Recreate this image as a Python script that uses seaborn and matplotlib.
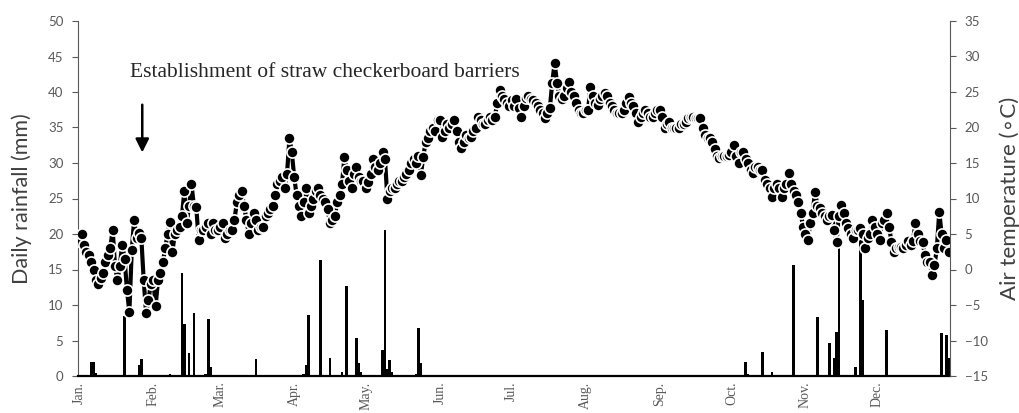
import numpy as np
import pandas as pd
import seaborn as sns
import matplotlib.pyplot as plt

# daily air temperature (deg C), day 0 = 1 Jan
temp_jan = [4, 5, 3.5, 2.5, 2, 1, 0, -1.5, -2, -1.2, -0.5, 1, 2, 3, 5.6, 0.5,
            -1.5, 0.5, 3.5, 1.5, -2.9, -6, 2.7, 7, 4.5, 5.1, 4.5, -1.5, -6.1, -4.3, -2]
temp_feb = [-1.5, -5.1, -1.5, -0.5, 1, 3, 5, 6.7, 2.5, 5, 5.6, 6, 7.5, 11, 6.5,
            9, 12, 9, 8.8, 4.2, 5.5, 5.5, 6, 6.5, 5, 6.5, 5.5, 5.5]
temp_mar = [6, 6.5, 4.5, 5, 5.5, 5.5, 7, 9.5, 10.5, 11, 9, 7, 5, 6.5, 8, 7,
            5.5, 6, 6, 7.5, 8, 8.5, 9, 10.5, 12, 12.5, 13, 11.5, 13.5, 18.5, 16.5]
temp_apr = [13, 10.5, 9, 7.5, 9.5, 11.5, 8, 9, 10, 11, 11.5, 10.5, 10, 9.5, 8.5,
            6.5, 7, 7.5, 9.5, 10.5, 12, 15.8, 14, 12.5, 11.5, 13.5, 14.5, 13, 12.5, 12.5]
temp_may = [11.5, 12.3, 13.5, 15.5, 14.5, 14, 15, 16.5, 15.5, 10, 11, 11.5, 11.5,
            12, 12.5, 12.5, 13, 13.5, 14, 15, 15.5, 15, 16, 13.3, 15.8, 18, 18.5,
            19.5, 20, 19.5, 21]
temp_jun = [21, 18.7, 19.5, 20.5, 20, 20.5, 21, 19.5, 18, 17.1, 18, 19, 18.5, 18.7,
            19.5, 20, 21.5, 21, 20.5, 20.5, 21, 21.5, 21, 21.5, 23.5, 25.3, 24.5, 24,
            23.5, 23]
temp_jul = [23.9, 23, 24, 22.7, 21.5, 23, 24.2, 24.5, 24, 23.9, 23.5, 23, 22.5, 22,
            21.3, 22, 22.7, 26.3, 29.1, 26.3, 24.5, 24, 24.5, 25.5, 26.4, 25, 24.5,
            23.5, 22.5, 22, 22]
temp_aug = [22.5, 22.5, 25.7, 24.5, 23.5, 23.2, 24, 24.5, 24.9, 24.5, 23.5, 23, 22.5,
            22, 22, 22, 22.5, 23.5, 24.3, 23.5, 23, 22, 20.8, 21.5, 22, 22.5, 22, 21.5,
            21.5, 22, 22.5]
temp_sep = [22.5, 21.5, 20, 20.5, 20.8, 20, 20, 20, 20, 20.5, 20.5, 20.8, 21.3, 21.5,
            21.5, 21.3, 21.3, 21.3, 19.9, 19, 18.5, 18.5, 18, 17, 16, 15.7, 16, 16, 16,
            16.1]
temp_oct = [16.5, 17.5, 16, 15, 16.5, 16.5, 15.5, 15, 14, 13.6, 14.5, 14.5, 14, 14,
            12.6, 12, 11.5, 10.2, 11.5, 12, 11.5, 10.2, 11.5, 12, 13.6, 12, 11, 10.5,
            9.5, 8, 6]
temp_nov = [5, 4.2, 6.5, 8, 10.9, 9, 8.7, 8, 7.5, 7, 7.5, 7.7, 5.6, 3.9, 7.5, 9.1,
            8, 6.5, 5.8, 5, 4.4, 5.5, 5.5, 5.8, 5, 3, 4.5, 5, 7, 6]
temp_dec = [5, 4.2, 6.5, 7, 8, 6, 3.9, 2.5, 3, 3.2, 3.2, 3, 3.5, 4, 3.5, 4, 6.5, 5,
            4, 3.9, 2, 1.1, 1, -0.8, 0.6, 3, 8.1, 5, 3, 4.2, 2.5]

# daily rainfall (mm), only days with rain
rain_day = [5, 6, 7, 19, 25, 26, 38, 43, 44, 46, 48, 53, 54, 55, 74, 94, 95, 96, 99,
            101, 105, 110, 112, 116, 117, 118, 127, 128, 129, 130, 131, 136, 141, 142,
            143, 279, 280, 286, 290, 299, 309, 311, 314, 316, 317, 318, 325, 327, 328,
            338, 361, 363, 364]
rain_mm = [2.0, 2.0, 0.4, 8.5, 1.5, 2.4, 0.3, 14.5, 7.3, 3.3, 8.9, 0.3, 8.0, 1.3, 2.4,
           0.3, 1.5, 8.6, 0.2, 16.3, 2.5, 0.5, 12.7, 5.3, 1.8, 0.5, 3.7, 20.6, 1.0, 2.2,
           0.5, 0.2, 0.3, 6.7, 1.8, 2.0, 0.3, 3.4, 0.5, 15.6, 8.3, 0.2, 4.6, 2.5, 6.2,
           18.0, 1.3, 19.2, 10.7, 6.5, 6.0, 5.8, 2.5]

month_labels = ['Jan.', 'Feb.', 'Mar.', 'Apr.', 'May.', 'Jun.', 'Jul.', 'Aug.',
                'Sep.', 'Oct.', 'Nov.', 'Dec.']
month_start = [0, 31, 59, 90, 120, 151, 181, 212, 243, 273, 304, 334]

temp = (temp_jan + temp_feb + temp_mar + temp_apr + temp_may + temp_jun + temp_jul
        + temp_aug + temp_sep + temp_oct + temp_nov + temp_dec)
df = pd.DataFrame({'day': np.arange(len(temp)), 'temp': temp, 'rain': 0.0})
df.loc[rain_day, 'rain'] = rain_mm

sns.set_style('ticks')
plt.rcParams['font.family'] = ['Lato', 'DejaVu Sans']

grey = '#595959'
fig = plt.figure(figsize=(10.19, 4.13), dpi=100)
ax = fig.add_axes([78 / 1019, 1 - 376 / 413, 872 / 1019, 355 / 413])

sns.barplot(data=df, x='day', y='rain', native_scale=True, color='black',
            width=1.1, linewidth=0, errorbar=None, saturation=1, ax=ax)
ax.set_xlim(-0.5, 364.5)
ax.set_ylim(0, 50)
ax.set_yticks(np.arange(0, 51, 5))
ax.set_xticks(month_start)
# month names kept small enough to fit inside the figure
ax.set_xticklabels(month_labels, rotation=90, fontfamily='Liberation Serif',
                   fontsize=10, color=grey)
ax.tick_params(axis='x', length=0, pad=4)
ax.tick_params(axis='y', length=4.5, width=0.8, color=grey, labelcolor=grey,
               labelsize=9.5, pad=6)
ax.set_xlabel('')
ax.set_ylabel('Daily rainfall (mm)', fontsize=15.5, color='#404040')
ax.yaxis.set_label_coords(-0.053, 0.5)
for s in ['top', 'right']:
    ax.spines[s].set_visible(False)
ax.spines['left'].set_color(grey)
ax.spines['left'].set_linewidth(0.8)
ax.spines['bottom'].set_color('black')
ax.spines['bottom'].set_linewidth(1.6)

ax.annotate('', xy=(26.4, 31.1), xytext=(26.4, 38.6),
            arrowprops=dict(arrowstyle='-|>', color='black', lw=1.8, mutation_scale=20))
ax.text(21.3, 42.8, 'Establishment of straw checkerboard barriers',
        fontfamily='Liberation Serif', fontsize=15.5, va='center', ha='left')

ax2 = ax.twinx()
sns.lineplot(data=df, x='day', y='temp', ax=ax2, color='black', linewidth=3,
             marker='o', markersize=8, markerfacecolor='black',
             markeredgecolor='white', markeredgewidth=1.2)
ax2.set_ylim(-15, 35)
ax2.set_yticks(np.arange(-15, 36, 5))
ax2.set_xlim(-0.5, 364.5)
ax2.tick_params(axis='y', length=4.5, width=0.8, color=grey, labelcolor=grey,
                labelsize=9.5, pad=6)
ax2.set_ylabel('Air temperature (\u2218C)', fontsize=16, color='#404040')
ax2.yaxis.set_label_coords(1.057, 0.5)
for s in ['top', 'left', 'bottom']:
    ax2.spines[s].set_visible(False)
ax2.spines['right'].set_color(grey)
ax2.spines['right'].set_linewidth(0.8)

plt.savefig('out.png', dpi=100)
